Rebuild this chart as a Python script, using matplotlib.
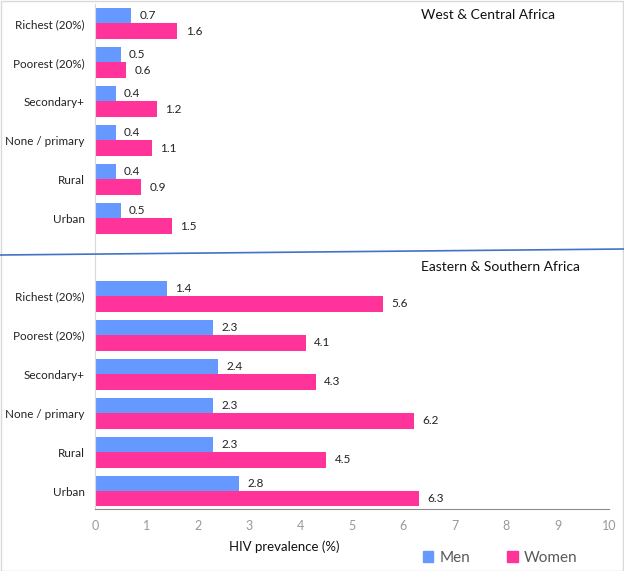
import numpy as np
import matplotlib.pyplot as plt
from matplotlib.lines import Line2D
from matplotlib.patches import Rectangle

plt.rcParams['font.family'] = ['Lato', 'DejaVu Sans']

categories = ['Urban', 'Rural', 'None / primary', 'Secondary+', 'Poorest (20%)', 'Richest (20%)']
wca_men = [0.5, 0.4, 0.4, 0.4, 0.5, 0.7]
wca_women = [1.5, 0.9, 1.1, 1.2, 0.6, 1.6]
esa_men = [2.8, 2.3, 2.3, 2.4, 2.3, 1.4]
esa_women = [6.3, 4.5, 6.2, 4.3, 4.1, 5.6]

men_color = '#6699FF'
women_color = '#FF3399'

W, H = 624, 571
fig = plt.figure(figsize=(W / 100, H / 100), dpi=100)
ax = fig.add_axes([95 / W, 1 - 509 / H, (609 - 95) / W, (509 - 4) / H])

esa_pos = np.arange(len(categories))
wca_pos = esa_pos + 7
bh = 0.395

def draw_group(pos, men, women):
    ax.barh(pos + bh / 2, men, height=bh, color=men_color)
    ax.barh(pos - bh / 2, women, height=bh, color=women_color)
    for p, m, w in zip(pos, men, women):
        ax.annotate(f'{m:.1f}', (m, p + bh / 2), xytext=(6, 0), textcoords='offset points',
                    va='center', ha='left', fontsize=8.5, color='#222222')
        ax.annotate(f'{w:.1f}', (w, p - bh / 2), xytext=(6, 0), textcoords='offset points',
                    va='center', ha='left', fontsize=8.5, color='#222222')

draw_group(esa_pos, esa_men, esa_women)
draw_group(wca_pos, wca_men, wca_women)

ax.set_xlim(0, 10)
ax.set_ylim(-0.46, 12.5)
ax.set_xticks(range(0, 11))
ax.tick_params(axis='x', length=0, colors='#999999', labelsize=9, pad=8)
ax.set_yticks(list(esa_pos) + list(wca_pos))
ax.set_yticklabels(categories + categories)
ax.tick_params(axis='y', length=0, labelsize=8.4, colors='#222222', pad=7.5)
for s in ['top', 'right']:
    ax.spines[s].set_visible(False)
ax.spines['left'].set_color('#d9d9d9')
ax.spines['bottom'].set_color('#8c8c8c')

fig.text(421 / W, 1 - 15 / H, 'West & Central Africa', fontsize=10, va='center', ha='left', color='#111111')
fig.text(421 / W, 1 - 267 / H, 'Eastern & Southern Africa', fontsize=10, va='center', ha='left', color='#111111')
fig.text(284 / W, 1 - 547 / H, 'HIV prevalence (%)', fontsize=9.5, va='center', ha='center', color='#111111')

# separator line between the two regions
fig.add_artist(Line2D([0, 1], [1 - 255 / H, 1 - 249 / H], transform=fig.transFigure,
                      color='#4472C4', lw=1.2))

# legend
handles = [Rectangle((0, 0), 1, 1, color=men_color), Rectangle((0, 0), 1, 1, color=women_color)]
leg = fig.legend(handles, ['Men', 'Women'], loc='center', bbox_to_anchor=(500 / W, 1 - 558 / H),
                 ncol=2, frameon=False, fontsize=11, handlelength=0.7, handleheight=0.7,
                 handletextpad=0.4, columnspacing=2.4)
for t in leg.get_texts():
    t.set_color('#595959')

# figure border
fig.add_artist(Rectangle((0.5 / W, 0.5 / H), 1 - 1.5 / W, 1 - 1.5 / H, transform=fig.transFigure,
                         fill=False, edgecolor='#d9d9d9', lw=1))

fig.savefig('out.png', dpi=100)
